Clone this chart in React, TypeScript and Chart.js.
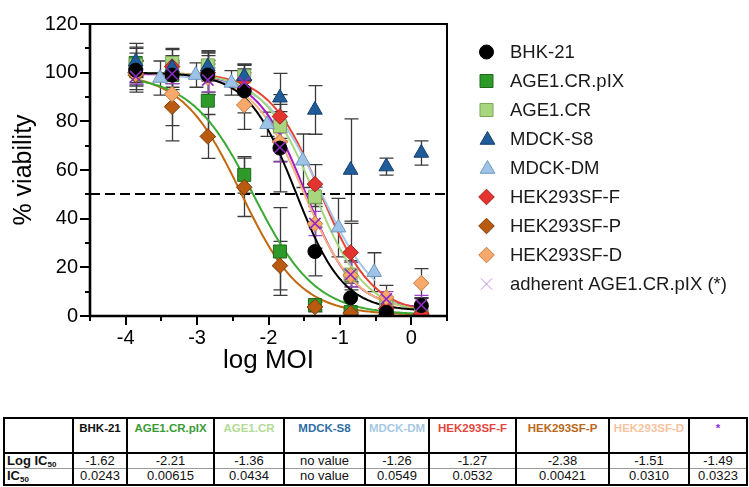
import React, { useEffect, useRef } from 'react';
import { Chart, registerables } from 'chart.js';

Chart.register(...registerables);

const FONT = '"Liberation Sans", Arial, Helvetica, sans-serif';

// ---------- data ----------
const SERIES_NAMES = [
  'BHK-21',
  'AGE1.CR.pIX',
  'AGE1.CR',
  'MDCK-S8',
  'MDCK-DM',
  'HEK293SF-F',
  'HEK293SF-P',
  'HEK293SF-D',
  'adherent AGE1.CR.pIX (*)',
];

const LOG_MOI = [-3.86, -3.35, -2.85, -2.34, -1.84, -1.35, -0.85, -0.35, 0.14];
const LOG_MOI_DM = [-3.52, -3.02, -2.52, -2.02, -1.52, -1.02, -0.52];

const BHK21 = [101, 99, 99, 92.5, 69, 26.5, 7.5, 1.5, 4.3];
const BHK21_SD = [9, 5, 8, 9, 18, 10, 6, 2, 3];
const AGE1CRPIX = [104, 99, 88.5, 58, 26.5, 4.5, 1.6, 0.5, 0.4];
const AGE1CRPIX_SD = [8, 6, 15, 7.5, 18, 2, 1, 0.5, 0.5];
const AGE1CR = [103, 104, 103, 98.5, 78, 49, 17, 4, 2];
const AGE1CR_SD = [5, 6, 6, 5, 6, 4, 5, 3, 2];
const MDCKS8 = [104.5, 102, 102.5, 98.5, 89.7, 84.7, 60, 61.4, 67];
const MDCKS8_SD = [6, 5, 6, 5, 10, 10, 21, 3.5, 5];
const MDCKDM = [97.8, 99, 95.8, 78.8, 63.8, 36.3, 18];
const MDCKDM_SD = [7, 5, 5, 5, 11, 12, 8];
const HEKF = [100, 102.5, 100, 97, 82, 54.2, 26.1, 3, 1];
const HEKF_SD = [5, 7, 8, 6, 9, 8, 12, 3, 1];
const HEKP = [99, 86, 73.8, 52.9, 20.7, 3.7, 1.2, 0.5, 0.5];
const HEKP_SD = [6, 14, 9, 12, 10, 2, 1, 0.5, 0.5];
const HEKD = [99.5, 91.2, 98, 86.7, 71.5, 37.9, 16.7, 7.6, 13.5];
const HEKD_SD = [5, 13, 7, 10, 8, 10, 6, 5, 6];
const ADHERENT = [98.4, 99.5, 97, 96, 69.3, 38, 17, 7, 4.5];
const ADHERENT_SD = [3, 4, 5, 4, 6, 5, 5, 3, 4];

// fitted 4-parameter logistic curves (null = no fit)
const FIT_LOG_IC50 = [-1.62, -2.21, -1.36, null, -1.26, -1.27, -2.38, -1.51, -1.49];
const FIT_HILL = [1.3, 1.0, 1.2, null, 1.1, 1.2, 1.05, 1.2, 1.3];
const FIT_TOP = [100, 99, 100, null, 99, 100, 100, 100, 99.5];
const FIT_BOTTOM = [2, 0.5, 1, null, 2, 1, 0.5, 2, 3];

const THRESHOLD = 50;
const X_TICKS = [-4, -3, -2, -1, 0];
const Y_TICKS = [0, 20, 40, 60, 80, 100, 120];

// table
const TABLE_HEADERS = ['BHK-21', 'AGE1.CR.pIX', 'AGE1.CR', 'MDCK-S8', 'MDCK-DM', 'HEK293SF-F', 'HEK293SF-P', 'HEK293SF-D', '*'];
const TABLE_LOG_IC50 = ['-1.62', '-2.21', '-1.36', 'no value', '-1.26', '-1.27', '-2.38', '-1.51', '-1.49'];
const TABLE_IC50 = ['0.0243', '0.00615', '0.0434', 'no value', '0.0549', '0.0532', '0.00421', '0.0310', '0.0323'];

// ---------- styles ----------
const SERIES_X = [LOG_MOI, LOG_MOI, LOG_MOI, LOG_MOI, LOG_MOI_DM, LOG_MOI, LOG_MOI, LOG_MOI, LOG_MOI];
const SERIES_Y = [BHK21, AGE1CRPIX, AGE1CR, MDCKS8, MDCKDM, HEKF, HEKP, HEKD, ADHERENT];
const SERIES_SD = [BHK21_SD, AGE1CRPIX_SD, AGE1CR_SD, MDCKS8_SD, MDCKDM_SD, HEKF_SD, HEKP_SD, HEKD_SD, ADHERENT_SD];
const FILL = ['#000000', '#2E9A2A', '#A8D67E', '#1F5C99', '#9DC3E6', '#E3342F', '#B85B10', '#F7A86B', '#8E2BC0'];
const EDGE = ['#000000', '#1f6a1c', '#7aa958', '#143f6b', '#6f98bf', '#a52420', '#7a3c08', '#c47c45', '#8E2BC0'];
const CURVE = ['#000000', '#3BAA35', '#A6D57F', '#000000', '#A5C8E8', '#E84333', '#C2680F', '#F6B27A', '#A419C9'];
const STYLE = ['circle', 'rect', 'rect', 'triangle', 'triangle', 'rectRot', 'rectRot', 'rectRot', 'crossRot'];
const RADIUS = [7, 9.2, 9.2, 8.5, 8.5, 7.8, 7.8, 7.8, 8];
const DRAW_ORDER = [2, 9, 8, 3, 4, 6, 7, 5, 1];
const HEADER_COLORS = ['#111111', '#3A9B35', '#B3DB94', '#2E6DA4', '#A7C8E3', '#E5453D', '#B8681A', '#F5C3A0', '#8A2BE2'];
const COL_WIDTHS = [69, 54, 87, 70, 81, 64, 87, 93, 80, 58];

function fourPL(x: number, top: number, bottom: number, logIC50: number, hill: number) {
  return bottom + (top - bottom) / (1 + Math.pow(10, (x - logIC50) * hill));
}

function drawMarker(ctx: CanvasRenderingContext2D, style: string, x: number, y: number, r: number, fill: string, edge: string, lw: number) {
  ctx.save();
  ctx.fillStyle = fill;
  ctx.strokeStyle = edge;
  ctx.lineWidth = lw;
  ctx.beginPath();
  if (style === 'circle') {
    ctx.arc(x, y, r, 0, Math.PI * 2);
  } else if (style === 'rect') {
    const s = r * Math.SQRT1_2;
    ctx.rect(x - s, y - s, 2 * s, 2 * s);
  } else if (style === 'triangle') {
    for (let k = 0; k < 3; k++) {
      const a = (k * 2 * Math.PI) / 3;
      const px = x + Math.sin(a) * r;
      const py = y - Math.cos(a) * r;
      if (k === 0) ctx.moveTo(px, py);
      else ctx.lineTo(px, py);
    }
    ctx.closePath();
  } else if (style === 'rectRot') {
    ctx.moveTo(x - r, y);
    ctx.lineTo(x, y - r);
    ctx.lineTo(x + r, y);
    ctx.lineTo(x, y + r);
    ctx.closePath();
  } else if (style === 'crossRot') {
    const o = r * Math.SQRT1_2;
    ctx.moveTo(x - o, y - o);
    ctx.lineTo(x + o, y + o);
    ctx.moveTo(x - o, y + o);
    ctx.lineTo(x + o, y - o);
    ctx.stroke();
    ctx.restore();
    return;
  }
  ctx.fill();
  ctx.stroke();
  ctx.restore();
}

const backgroundPlugin = {
  id: 'bgAndBars',
  beforeDatasetsDraw(chart: any) {
    const { ctx, chartArea, scales } = chart;
    const xs = scales.x;
    const ys = scales.y;
    ctx.save();
    ctx.beginPath();
    ctx.rect(chartArea.left, chartArea.top, chartArea.right - chartArea.left, chartArea.bottom - chartArea.top);
    ctx.clip();
    // error bars
    chart.data.datasets.forEach((ds: any) => {
      if (!ds.errors) return;
      ctx.strokeStyle = ds.errorColor;
      ctx.lineWidth = 1.3;
      ds.data.forEach((p: any, j: number) => {
        const e = ds.errors[j];
        if (!e) return;
        const px = Math.round(xs.getPixelForValue(p.x)) + 0.5;
        const yt = ys.getPixelForValue(p.y + e);
        const yb = ys.getPixelForValue(p.y - e);
        ctx.beginPath();
        ctx.moveTo(px, yt);
        ctx.lineTo(px, yb);
        ctx.moveTo(px - 7, yt);
        ctx.lineTo(px + 7, yt);
        ctx.moveTo(px - 7, yb);
        ctx.lineTo(px + 7, yb);
        ctx.stroke();
      });
    });
    // dashed 50% line
    const yy = Math.round(ys.getPixelForValue(THRESHOLD));
    ctx.strokeStyle = '#000';
    ctx.lineWidth = 2;
    ctx.setLineDash([10, 5]);
    ctx.beginPath();
    ctx.moveTo(chartArea.left, yy);
    ctx.lineTo(chartArea.right, yy);
    ctx.stroke();
    ctx.restore();
  },
};

const framePlugin = {
  id: 'frameTicksLegend',
  afterDraw(chart: any) {
    const { ctx, chartArea, scales } = chart;
    const xs = scales.x;
    const ys = scales.y;
    const { left, right, top, bottom } = chartArea;
    ctx.save();
    ctx.strokeStyle = '#000';
    // frame
    ctx.lineWidth = 2;
    ctx.beginPath();
    ctx.moveTo(left, top);
    ctx.lineTo(right, top);
    ctx.lineTo(right, bottom);
    ctx.stroke();
    ctx.lineWidth = 2.6;
    ctx.beginPath();
    ctx.moveTo(left, top - 1);
    ctx.lineTo(left, bottom);
    ctx.lineTo(right + 1, bottom);
    ctx.stroke();
    // ticks
    ctx.lineWidth = 2;
    ctx.beginPath();
    Y_TICKS.forEach((v, i) => {
      const py = Math.round(ys.getPixelForValue(v));
      ctx.moveTo(left - 10, py);
      ctx.lineTo(left, py);
      if (i < Y_TICKS.length - 1) {
        const pm = Math.round(ys.getPixelForValue((v + Y_TICKS[i + 1]) / 2));
        ctx.moveTo(left - 5, pm);
        ctx.lineTo(left, pm);
      }
    });
    X_TICKS.forEach((v, i) => {
      const px = Math.round(xs.getPixelForValue(v));
      ctx.moveTo(px, bottom);
      ctx.lineTo(px, bottom + 9);
      const pm = Math.round(xs.getPixelForValue(v - 0.5));
      ctx.moveTo(pm, bottom);
      ctx.lineTo(pm, bottom + 5);
      if (i === X_TICKS.length - 1) {
        const pe = Math.round(xs.getPixelForValue(v + 0.5));
        ctx.moveTo(pe, bottom);
        ctx.lineTo(pe, bottom + 5);
      }
    });
    ctx.stroke();
    // legend
    const lx = 486.5;
    const tx = 510;
    ctx.font = `18.5px ${FONT}`;
    ctx.textBaseline = 'middle';
    ctx.textAlign = 'left';
    SERIES_NAMES.forEach((name, i) => {
      const ly = 52 + 29 * i;
      if (STYLE[i] === 'crossRot') {
        drawMarker(ctx, 'crossRot', lx, ly, 8, '#C08EE4', '#C08EE4', 1);
      } else {
        drawMarker(ctx, STYLE[i], lx + (STYLE[i] === 'triangle' ? 1 : 0), ly + (STYLE[i] === 'triangle' ? 1 : 0), RADIUS[i], FILL[i], EDGE[i], 1);
      }
      ctx.fillStyle = '#1a1a1a';
      ctx.fillText(name, tx, ly + 1);
    });
    ctx.restore();
  },
};

function buildDatasets() {
  const pointSets: any[] = SERIES_NAMES.map((name, i) => ({
    type: 'scatter',
    label: name,
    data: SERIES_X[i].map((x, j) => ({ x, y: SERIES_Y[i][j] })),
    errors: SERIES_SD[i],
    errorColor: STYLE[i] === 'crossRot' ? '#9A45C8' : '#3a3a3a',
    pointStyle: STYLE[i],
    pointRadius: RADIUS[i],
    pointBackgroundColor: FILL[i],
    pointBorderColor: EDGE[i],
    pointBorderWidth: STYLE[i] === 'crossRot' ? 1.6 : 1,
    showLine: false,
    order: DRAW_ORDER[i],
  }));
  const curveSets: any[] = [];
  SERIES_NAMES.forEach((name, i) => {
    const c = FIT_LOG_IC50[i];
    if (c === null) return;
    const xsrc = SERIES_X[i];
    const x0 = xsrc[0] - 0.05;
    const x1 = xsrc[xsrc.length - 1] + 0.02;
    const pts: { x: number; y: number }[] = [];
    for (let x = x0; x <= x1 + 1e-9; x += 0.02) {
      pts.push({ x, y: fourPL(x, FIT_TOP[i] as number, FIT_BOTTOM[i] as number, c, FIT_HILL[i] as number) });
    }
    curveSets.push({
      type: 'line',
      label: name + ' fit',
      data: pts,
      borderColor: CURVE[i],
      borderWidth: 2,
      pointRadius: 0,
      tension: 0,
      fill: false,
      order: 20 + i,
    });
  });
  return [...pointSets, ...curveSets];
}

export default function App() {
  const canvasRef = useRef<HTMLCanvasElement>(null);

  useEffect(() => {
    const chart = new Chart(canvasRef.current as HTMLCanvasElement, {
      type: 'scatter',
      data: { datasets: buildDatasets() },
      options: {
        animation: false,
        responsive: false,
        devicePixelRatio: 1,
        layout: { padding: { left: 0, top: 10, right: 302, bottom: 0 } },
        plugins: { legend: { display: false }, tooltip: { enabled: false } },
        scales: {
          x: {
            type: 'linear',
            min: -4.5,
            max: 0.5,
            afterBuildTicks: (s: any) => {
              s.ticks = X_TICKS.map((v) => ({ value: v }));
            },
            afterFit: (s: any) => {
              s.height = 84;
            },
            grid: { display: false, drawTicks: false },
            border: { display: false },
            ticks: {
              color: '#000',
              padding: 10,
              font: { family: FONT, size: 20 },
              callback: (v: any) => String(v),
            },
            title: {
              display: true,
              text: 'log MOI',
              color: '#000',
              font: { family: FONT, size: 26 },
              padding: { top: 0, bottom: 24 },
            },
          },
          y: {
            type: 'linear',
            min: 0,
            max: 120,
            afterBuildTicks: (s: any) => {
              s.ticks = Y_TICKS.map((v) => ({ value: v }));
            },
            afterFit: (s: any) => {
              s.width = 90;
            },
            grid: { display: false, drawTicks: false },
            border: { display: false },
            ticks: {
              color: '#000',
              padding: 12,
              font: { family: FONT, size: 20 },
            },
            title: {
              display: true,
              text: '% viability',
              color: '#000',
              font: { family: FONT, size: 25 },
              padding: { top: 9, bottom: 0 },
            },
          },
        },
      } as any,
      plugins: [backgroundPlugin, framePlugin],
    });
    return () => chart.destroy();
  }, []);

  const border = '2px solid #000';
  const thin = '1.5px solid #9a9a9a';
  const cellBase: React.CSSProperties = {
    borderLeft: border,
    borderRight: border,
    padding: 0,
    textAlign: 'center',
    fontSize: 13,
    lineHeight: '14px',
    color: '#111',
    overflow: 'hidden',
    whiteSpace: 'nowrap',
  };
  const sub: React.CSSProperties = { fontSize: 8, verticalAlign: -2, lineHeight: 0 };

  return (
    <div style={{ position: 'absolute', left: 0, top: 0, width: 749, height: 487, background: '#fff', fontFamily: FONT }}>
      <canvas ref={canvasRef} width={749} height={400} style={{ position: 'absolute', left: 0, top: 0, width: 749, height: 400 }} />
      <table
        style={{
          position: 'absolute',
          left: 3,
          top: 417,
          width: 743,
          borderCollapse: 'collapse',
          tableLayout: 'fixed',
          border: border,
          fontFamily: FONT,
        }}
      >
        <colgroup>
          {COL_WIDTHS.map((w, i) => (
            <col key={i} style={{ width: w }} />
          ))}
        </colgroup>
        <tbody>
          <tr style={{ height: 35 }}>
            <td style={{ ...cellBase, borderBottom: border }} />
            {TABLE_HEADERS.map((h, i) => (
              <td
                key={i}
                style={{
                  ...cellBase,
                  borderBottom: border,
                  verticalAlign: 'top',
                  fontWeight: 'bold',
                  fontSize: 11.5,
                  paddingTop: 2,
                  color: HEADER_COLORS[i],
                }}
              >
                {h}
              </td>
            ))}
          </tr>
          <tr style={{ height: 15.5 }}>
            <td style={{ ...cellBase, borderBottom: thin, textAlign: 'left', fontWeight: 'bold', paddingLeft: 2 }}>
              Log IC<span style={sub}>50</span>
            </td>
            {TABLE_LOG_IC50.map((v, i) => (
              <td key={i} style={{ ...cellBase, borderBottom: thin }}>
                {v}
              </td>
            ))}
          </tr>
          <tr style={{ height: 16 }}>
            <td style={{ ...cellBase, textAlign: 'left', fontWeight: 'bold', paddingLeft: 2 }}>
              IC<span style={sub}>50</span>
            </td>
            {TABLE_IC50.map((v, i) => (
              <td key={i} style={cellBase}>
                {v}
              </td>
            ))}
          </tr>
        </tbody>
      </table>
    </div>
  );
}
